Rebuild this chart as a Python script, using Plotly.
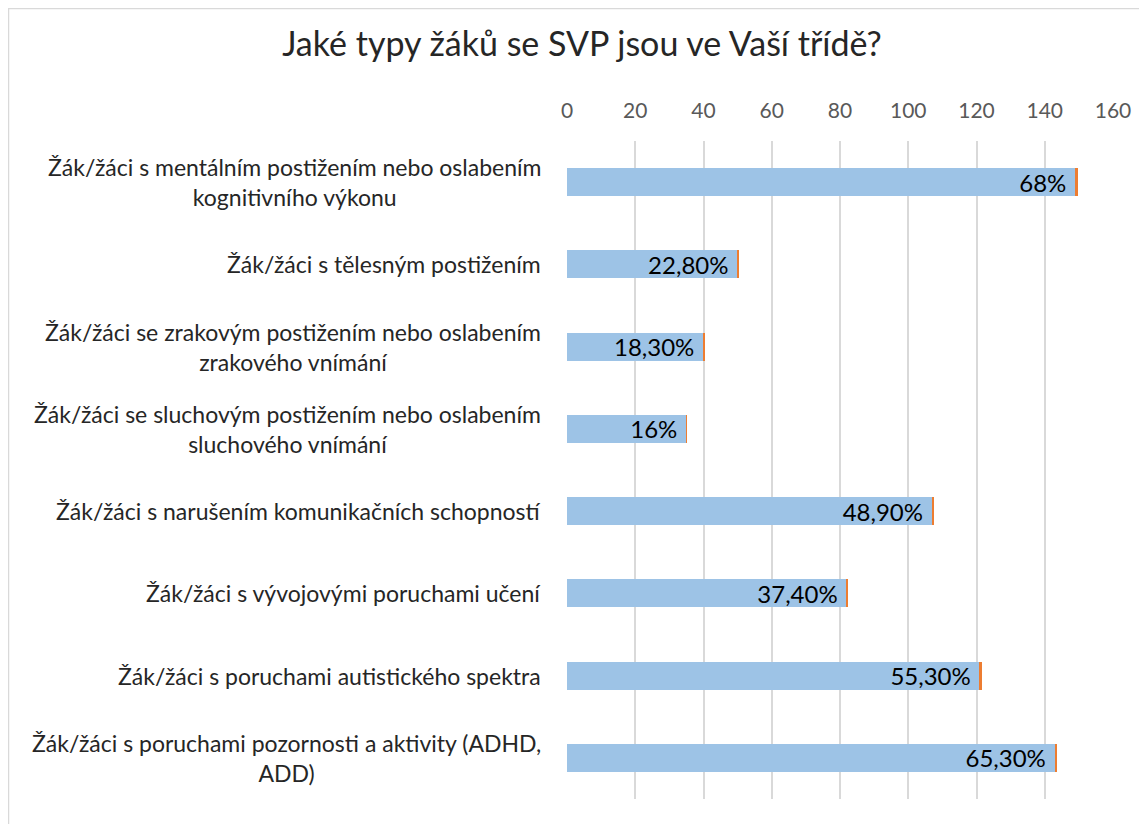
import plotly.graph_objects as go

# Data
categories = [
    "Žák/žáci s mentálním postižením nebo oslabením<br>kognitivního výkonu",
    "Žák/žáci s tělesným postižením",
    "Žák/žáci se zrakovým postižením nebo oslabením<br>zrakového vnímání",
    "Žák/žáci se sluchovým postižením nebo oslabením<br>sluchového vnímání",
    "Žák/žáci s narušením komunikačních schopností",
    "Žák/žáci s vývojovými poruchami učení",
    "Žák/žáci s poruchami autistického spektra",
    "Žák/žáci s poruchami pozornosti a aktivity (ADHD,<br>ADD)",
]
counts = [149, 50, 40, 35, 107, 82, 121, 143]
shares = [0.68, 0.228, 0.183, 0.16, 0.489, 0.374, 0.553, 0.653]
labels = ["68%", "22,80%", "18,30%", "16%", "48,90%", "37,40%", "55,30%", "65,30%"]
x_ticks = [0, 20, 40, 60, 80, 100, 120, 140, 160]

FONT = "Lato"
OFF = 8  # page body margin
W, H = 1147 - OFF, 824 - OFF
L, T = 567 - OFF, 141 - OFF
R = W - (1113 - OFF)
B = H - (799 - OFF)
pw, ph = W - L - R, H - T - B


def px_x(p):
    return (p - OFF - L) / pw


def px_y(p):
    return (H - B - (p - OFF)) / ph


fig = go.Figure()

fig.add_trace(go.Bar(
    y=categories, x=counts, orientation="h",
    marker=dict(color="#9DC3E6", line_width=0),
    text=[s + " " for s in labels], textposition="inside", insidetextanchor="end",
    constraintext="none",
    textfont=dict(family=FONT, size=24, color="#000000"),
    width=0.34, showlegend=False, cliponaxis=False,
))
fig.add_trace(go.Bar(
    y=categories, x=shares, orientation="h",
    marker=dict(color="#ED7D31", line_width=0),
    width=0.34, showlegend=False,
))

# category labels, centred like the original
for c in categories:
    fig.add_annotation(
        x=px_x(543), xref="paper", y=c, yref="y",
        text=c, showarrow=False, xanchor="right", align="center",
        font=dict(family=FONT, size=23, color="#262626"),
    )

# chart border
fig.add_shape(
    type="rect", xref="paper", yref="paper",
    x0=px_x(8.5), x1=px_x(1200),
    y0=px_y(900), y1=px_y(8.5),
    line=dict(color="#D9D9D9", width=1.5), fillcolor="rgba(0,0,0,0)",
    layer="below",
)

fig.update_layout(
    width=W, height=H,
    barmode="stack",
    paper_bgcolor="white", plot_bgcolor="white",
    margin=dict(l=L, r=R, t=T, b=B),
    title=dict(
        text="Jaké typy žáků se SVP jsou ve Vaší třídě?",
        x=(582 - OFF) / W, xanchor="center",
        y=1 - (44 - OFF) / H, yanchor="middle",
        font=dict(family=FONT, size=34, color="#262626"),
    ),
    font=dict(family=FONT),
)
fig.update_xaxes(
    side="top", range=[0, 160], tickvals=x_ticks,
    showgrid=True, gridcolor="#D9D9D9", gridwidth=1.5,
    zeroline=False, showline=False, ticks="",
    ticklabelstandoff=18,
    tickfont=dict(family=FONT, size=21, color="#595959"),
)
fig.update_yaxes(
    autorange="reversed", showticklabels=False, showgrid=False,
    zeroline=False, showline=False, ticks="",
)

fig.write_html("out.html")
